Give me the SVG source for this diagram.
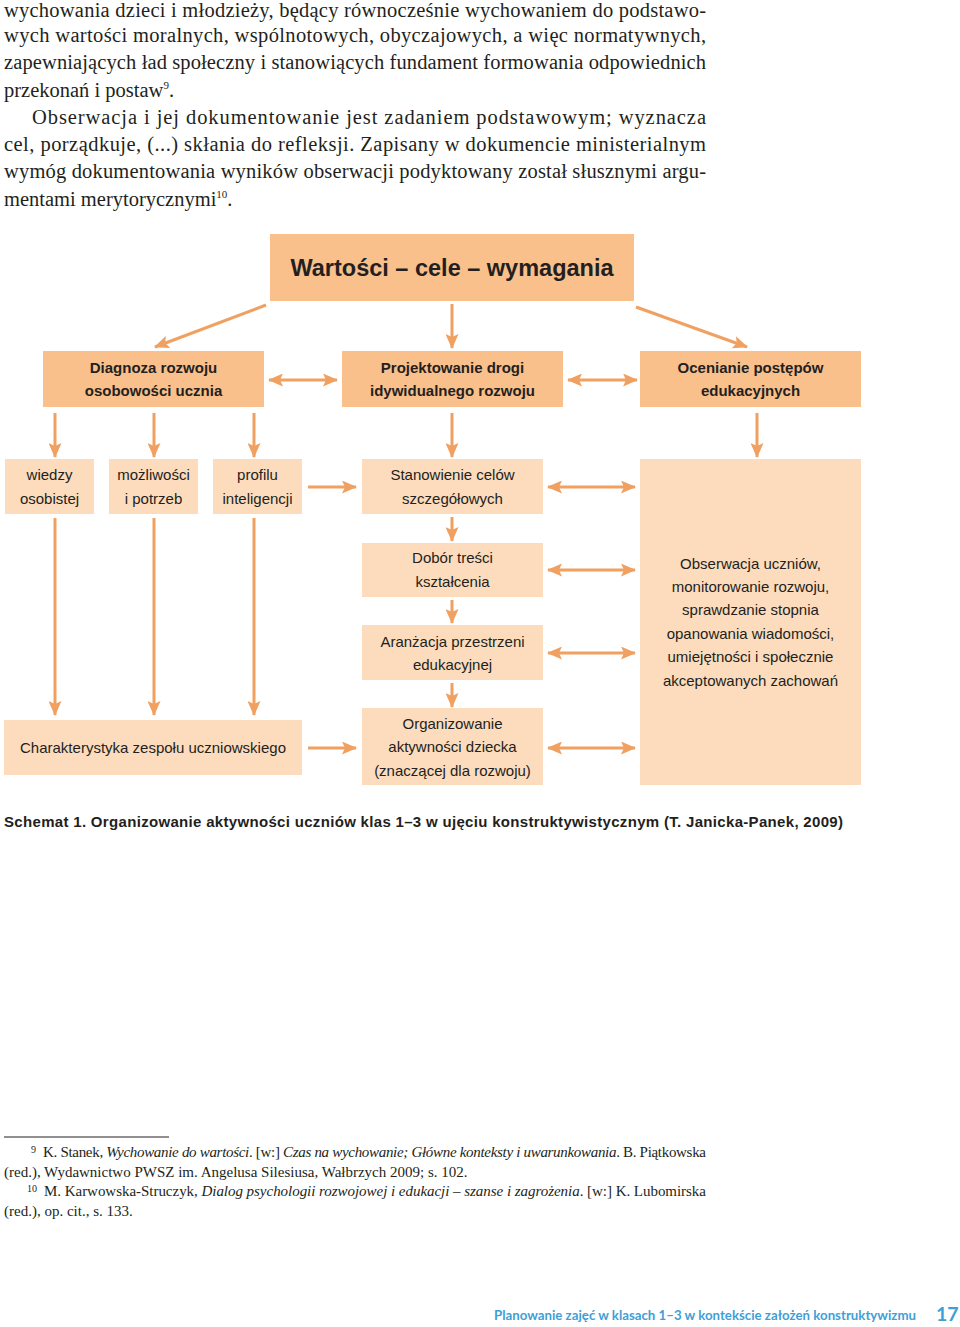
<svg xmlns="http://www.w3.org/2000/svg" width="960" height="1327" viewBox="0 0 960 1327">
<defs>
<style>
.body{font-family:"Liberation Serif",serif;font-size:20.5px;fill:#231f20}
.fn{font-family:"Liberation Serif",serif;font-size:15px;fill:#231f20}
.sup{font-family:"Liberation Serif",serif;font-size:10px;fill:#231f20}
.it{font-style:italic}
.dark{fill:#f9c08c}
.light{fill:#fcdcbd}
.t{font-family:"Liberation Sans",Arial,sans-serif;font-size:15px;fill:#231f20;text-anchor:middle}
.b{font-weight:bold}
.title{font-family:"Liberation Sans",Arial,sans-serif;font-size:23.5px;font-weight:bold;fill:#231f20;text-anchor:middle}
.cap{font-family:"Liberation Sans",Arial,sans-serif;font-size:15px;font-weight:bold;fill:#231f20}
.ar{stroke:#f0a060;stroke-width:3;fill:none;marker-end:url(#ah)}
.dbl{stroke:#f0a060;stroke-width:3;fill:none;marker-end:url(#ah);marker-start:url(#ah)}
.foot{font-family:Lato,"Liberation Sans",sans-serif;font-weight:bold;fill:#3f9fd6}
</style>
<marker id="ah" viewBox="0 0 15 13" refX="14" refY="6.5" markerWidth="15" markerHeight="13" markerUnits="userSpaceOnUse" orient="auto-start-reverse">
<path d="M0,0 L15,6.5 L0,13 L3,6.5 z" fill="#f0a060"/>
</marker>
</defs>
<rect width="960" height="1327" fill="#ffffff"/>

<g id="body-text">
<text class="body" x="4" y="17" textLength="702" lengthAdjust="spacing">wychowania dzieci i młodzieży, będący równocześnie wychowaniem do podstawo-</text>
<text class="body" x="4" y="42" textLength="702" lengthAdjust="spacing">wych wartości moralnych, wspólnotowych, obyczajowych, a więc normatywnych,</text>
<text class="body" x="4" y="69" textLength="702" lengthAdjust="spacing">zapewniających ład społeczny i stanowiących fundament formowania odpowiednich</text>
<text class="body" x="4" y="97">przekonań i postaw<tspan font-size="11" dy="-8">9</tspan><tspan dy="8">.</tspan></text>
<text class="body" x="32" y="124" textLength="674" lengthAdjust="spacing">Obserwacja i jej dokumentowanie jest zadaniem podstawowym; wyznacza</text>
<text class="body" x="4" y="151" textLength="702" lengthAdjust="spacing">cel, porządkuje, (...) skłania do refleksji. Zapisany w dokumencie ministerialnym</text>
<text class="body" x="4" y="178" textLength="702" lengthAdjust="spacing">wymóg dokumentowania wyników obserwacji podyktowany został słusznymi argu-</text>
<text class="body" x="4" y="206">mentami merytorycznymi<tspan font-size="11" dy="-8">10</tspan><tspan dy="8">.</tspan></text>
</g>

<g id="connectors">
<line class="ar" x1="266" y1="305" x2="155" y2="347"/>
<line class="ar" x1="452" y1="304" x2="452" y2="348"/>
<line class="ar" x1="636" y1="307" x2="747" y2="347"/>
<line class="dbl" x1="269" y1="380" x2="337" y2="380"/>
<line class="dbl" x1="568" y1="380" x2="637" y2="380"/>
<line class="ar" x1="55" y1="413" x2="55" y2="457"/>
<line class="ar" x1="154" y1="413" x2="154" y2="457"/>
<line class="ar" x1="254" y1="413" x2="254" y2="457"/>
<line class="ar" x1="452" y1="413" x2="452" y2="457"/>
<line class="ar" x1="757" y1="413" x2="757" y2="457"/>
<line class="ar" x1="308" y1="487" x2="356" y2="487"/>
<line class="dbl" x1="548" y1="487" x2="635" y2="487"/>
<line class="ar" x1="55" y1="518" x2="55" y2="715"/>
<line class="ar" x1="154" y1="518" x2="154" y2="715"/>
<line class="ar" x1="254" y1="518" x2="254" y2="715"/>
<line class="ar" x1="452" y1="517" x2="452" y2="541"/>
<line class="ar" x1="452" y1="600" x2="452" y2="623"/>
<line class="ar" x1="452" y1="683" x2="452" y2="707"/>
<line class="dbl" x1="548" y1="570" x2="635" y2="570"/>
<line class="dbl" x1="548" y1="653" x2="635" y2="653"/>
<line class="dbl" x1="548" y1="748" x2="635" y2="748"/>
<line class="ar" x1="308" y1="748" x2="356" y2="748"/>
</g>

<g id="n-title">
<rect class="dark" x="270" y="234" width="364" height="67"/>
<text class="title" x="452" y="276">Wartości – cele – wymagania</text>
</g>
<g id="n-diagnoza">
<rect class="dark" x="43" y="351" width="221" height="56"/>
<text class="t b" x="153.5" y="373">Diagnoza rozwoju</text>
<text class="t b" x="153.5" y="396">osobowości ucznia</text>
</g>
<g id="n-projektowanie">
<rect class="dark" x="342" y="351" width="221" height="56"/>
<text class="t b" x="452.5" y="373">Projektowanie drogi</text>
<text class="t b" x="452.5" y="396">idywidualnego rozwoju</text>
</g>
<g id="n-ocenianie">
<rect class="dark" x="640" y="351" width="221" height="56"/>
<text class="t b" x="750.5" y="373">Ocenianie postępów</text>
<text class="t b" x="750.5" y="396">edukacyjnych</text>
</g>
<g id="n-wiedzy">
<rect class="light" x="5" y="459" width="89" height="55"/>
<text class="t" x="49.5" y="480">wiedzy</text>
<text class="t" x="49.5" y="504">osobistej</text>
</g>
<g id="n-mozliwosci">
<rect class="light" x="109" y="459" width="89" height="55"/>
<text class="t" x="153.5" y="480">możliwości</text>
<text class="t" x="153.5" y="504">i potrzeb</text>
</g>
<g id="n-profilu">
<rect class="light" x="213" y="459" width="89" height="55"/>
<text class="t" x="257.5" y="480">profilu</text>
<text class="t" x="257.5" y="504">inteligencji</text>
</g>
<g id="n-stanowienie">
<rect class="light" x="362" y="459" width="181" height="55"/>
<text class="t" x="452.5" y="480">Stanowienie celów</text>
<text class="t" x="452.5" y="504">szczegółowych</text>
</g>
<g id="n-dobor">
<rect class="light" x="362" y="543" width="181" height="54"/>
<text class="t" x="452.5" y="563">Dobór treści</text>
<text class="t" x="452.5" y="587">kształcenia</text>
</g>
<g id="n-aranzacja">
<rect class="light" x="362" y="625" width="181" height="55"/>
<text class="t" x="452.5" y="647">Aranżacja przestrzeni</text>
<text class="t" x="452.5" y="670">edukacyjnej</text>
</g>
<g id="n-organizowanie">
<rect class="light" x="362" y="708" width="181" height="77"/>
<text class="t" x="452.5" y="729">Organizowanie</text>
<text class="t" x="452.5" y="752">aktywności dziecka</text>
<text class="t" x="452.5" y="776">(znaczącej dla rozwoju)</text>
</g>
<g id="n-charakterystyka">
<rect class="light" x="4" y="720" width="298" height="55"/>
<text class="t" x="153" y="753" font-size="15.5">Charakterystyka zespołu uczniowskiego</text>
</g>
<g id="n-obserwacja">
<rect class="light" x="640" y="459" width="221" height="326"/>
<text class="t" x="750.5" y="569">Obserwacja uczniów,</text>
<text class="t" x="750.5" y="592">monitorowanie rozwoju,</text>
<text class="t" x="750.5" y="615">sprawdzanie stopnia</text>
<text class="t" x="750.5" y="639">opanowania wiadomości,</text>
<text class="t" x="750.5" y="662">umiejętności i społecznie</text>
<text class="t" x="750.5" y="686">akceptowanych zachowań</text>
</g>

<g id="caption">
<text class="cap" x="4" y="827" textLength="839" lengthAdjust="spacing">Schemat 1. Organizowanie aktywności uczniów klas 1–3 w ujęciu konstruktywistycznym (T. Janicka-Panek, 2009)</text>
</g>

<g id="footnotes">
<line x1="4" y1="1137" x2="169" y2="1137" stroke="#231f20" stroke-width="1"/>
<text class="sup" x="31" y="1153">9</text>
<text class="fn" x="43" y="1157" textLength="663" lengthAdjust="spacing">K. Stanek, <tspan class="it">Wychowanie do wartości</tspan>. [w:] <tspan class="it">Czas na wychowanie; Główne konteksty i uwarunkowania</tspan>. B. Piątkowska</text>
<text class="fn" x="4" y="1177">(red.), Wydawnictwo PWSZ im. Angelusa Silesiusa, Wałbrzych 2009; s. 102.</text>
<text class="sup" x="27" y="1192">10</text>
<text class="fn" x="44" y="1196" textLength="662" lengthAdjust="spacing">M. Karwowska-Struczyk, <tspan class="it">Dialog psychologii rozwojowej i edukacji – szanse i zagrożenia</tspan>. [w:] K. Lubomirska</text>
<text class="fn" x="4" y="1216">(red.), op. cit., s. 133.</text>
</g>

<g id="footer">
<text class="foot" x="494" y="1320" font-size="12.5" textLength="422" lengthAdjust="spacingAndGlyphs">Planowanie zajęć w klasach 1–3 w kontekście założeń konstruktywizmu</text>
<text class="foot" x="936" y="1321" font-size="19.5">17</text>
</g>
</svg>
